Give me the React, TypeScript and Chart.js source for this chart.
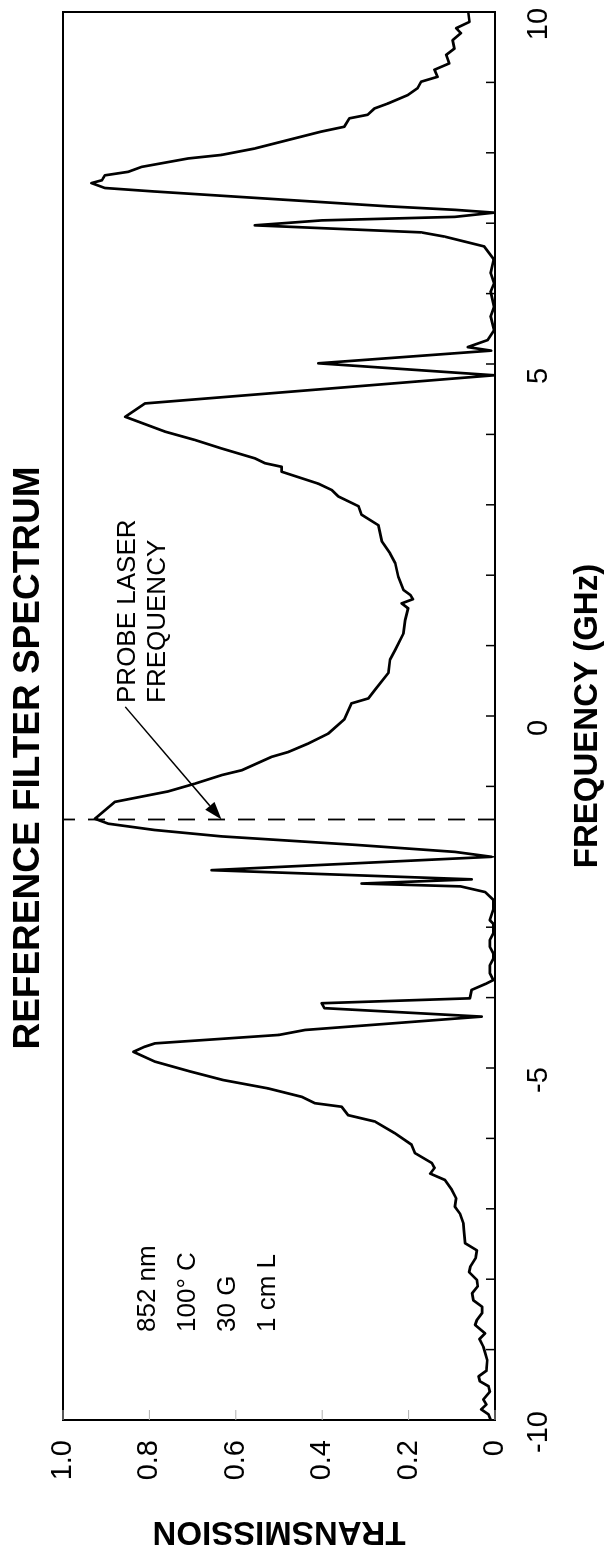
import React, { useEffect, useRef } from 'react';
import { Chart, registerables } from 'chart.js';

Chart.register(...registerables);

// ---- data (frequency in GHz, transmission 0..1) ----
const FREQ_GHZ = [
  -10.0, -9.92, -9.85, -9.78, -9.71, -9.6, -9.52, -9.45, -9.38, -9.3, -9.15, -8.96, -8.85, -8.77,
  -8.65, -8.58, -8.48, -8.39, -8.3, -8.2, -8.1, -8.01, -7.9, -7.82, -7.7, -7.59, -7.49, -7.3,
  -7.21, -7.07, -6.97, -6.85, -6.73, -6.59, -6.5, -6.42, -6.35, -6.21, -6.09, -5.93, -5.76,
  -5.67, -5.55, -5.5, -5.41, -5.29, -5.17, -5.05, -4.91, -4.77, -4.7, -4.65, -4.53, -4.46,
  -4.27, -4.15, -4.08, -4.01, -3.89, -3.8, -3.75, -3.65, -3.54, -3.45, -3.37, -3.28, -3.18,
  -3.09, -2.95, -2.9, -2.75, -2.61, -2.5, -2.42, -2.38, -2.32, -2.19, -2.0, -1.93, -1.83,
  -1.71, -1.62, -1.53, -1.46, -1.22, -1.07, -0.96, -0.84, -0.77, -0.58, -0.51, -0.39, -0.25,
  -0.05, 0.18, 0.25, 0.37, 0.61, 0.8, 0.94, 1.17, 1.36, 1.53, 1.6, 1.66, 1.72, 1.79, 1.98,
  2.17, 2.31, 2.48, 2.71, 2.86, 2.98, 3.12, 3.21, 3.3, 3.47, 3.54, 3.59, 3.66, 3.8, 3.92,
  4.04, 4.25, 4.44, 4.84, 5.01, 5.19, 5.24, 5.34, 5.48, 5.68, 5.81, 6.03, 6.15, 6.29, 6.49,
  6.67, 6.74, 6.81, 6.87, 6.91, 6.97, 7.04, 7.09, 7.15, 7.19, 7.24, 7.33, 7.45, 7.5, 7.57,
  7.61, 7.68, 7.73, 7.8, 7.92, 7.97, 8.06, 8.18, 8.3, 8.37, 8.49, 8.54, 8.63, 8.7, 8.82,
  8.92, 9.01, 9.08, 9.18, 9.27, 9.39, 9.48, 9.6, 9.7, 9.77, 9.86, 10.0,
];

const TRANSMISSION = [
  0.01, 0.015, 0.032, 0.02, 0.027, 0.012, 0.015, 0.035, 0.038, 0.02, 0.018, 0.027, 0.036, 0.023,
  0.046, 0.042, 0.03, 0.03, 0.05, 0.053, 0.04, 0.042, 0.06, 0.057, 0.045, 0.042, 0.069, 0.072,
  0.073, 0.081, 0.093, 0.09, 0.1, 0.116, 0.15, 0.14, 0.146, 0.185, 0.193, 0.231, 0.278,
  0.34, 0.355, 0.417, 0.447, 0.525, 0.63, 0.705, 0.787, 0.837, 0.812, 0.787, 0.5, 0.44,
  0.031, 0.395, 0.401, 0.058, 0.054, 0.02, 0.004, 0.012, 0.012, 0.004, 0.004, 0.012, 0.012,
  0.004, 0.004, 0.012, 0.004, 0.004, 0.023, 0.08, 0.309, 0.054, 0.656, 0.008, 0.093, 0.324,
  0.633, 0.787, 0.895, 0.926, 0.88, 0.756, 0.694, 0.633, 0.586, 0.517, 0.478, 0.432, 0.386,
  0.349, 0.332, 0.293, 0.278, 0.247, 0.243, 0.231, 0.212, 0.208, 0.201, 0.216, 0.19, 0.196, 0.212, 0.224,
  0.231, 0.243, 0.262, 0.27, 0.309, 0.316, 0.363, 0.378, 0.409, 0.494, 0.494, 0.532, 0.556, 0.633, 0.694,
  0.764, 0.856, 0.81, 0.002, 0.409, 0.009, 0.063, 0.017, 0.002, 0.01, 0.002, 0.01, 0.002, 0.01, 0.003,
  0.025, 0.071, 0.117, 0.171, 0.325, 0.556, 0.401, 0.093, 0.002, 0.093, 0.248, 0.479, 0.787, 0.903, 0.934,
  0.91, 0.903, 0.849, 0.818, 0.71, 0.633, 0.557, 0.48, 0.403, 0.349, 0.337, 0.295, 0.279, 0.248, 0.202,
  0.179, 0.171, 0.133, 0.14, 0.106, 0.113, 0.094, 0.098, 0.079, 0.09, 0.059, 0.062,
];

const PROBE_FREQ = -1.47;
const X_LABELED_TICKS = [-10, -5, 0, 5, 10];
const X_MIN = -10;
const X_MAX = 10;
const Y_MIN = 0;
const Y_MAX = 1;

const TITLE = 'REFERENCE FILTER SPECTRUM';
const X_TITLE = 'FREQUENCY (GHz)';
const Y_TITLE = 'TRANSMISSION';
const INFO_LINES = ['852 nm', '100° C', '30 G', '1 cm L'];
const INFO_AT = { f: -8.75, t: 0.787 };
const PROBE_LINES = ['PROBE LASER', 'FREQUENCY'];
const PROBE_TEXT_AT = { f: 0.185, t: 0.833 };
const ARROW_FROM = { f: 0.13, t: 0.856 };
const ARROW_TO = { f: -1.47, t: 0.633 };

const FONT = '"Liberation Sans", Arial, Helvetica, sans-serif';
const CW = 1551; // canvas width (drawn unrotated)
const CH = 608; // canvas height

const decorPlugin = {
  id: 'decor',
  afterDraw(chart: any) {
    const { ctx, chartArea: a, scales } = chart;
    const x = scales.x;
    const y = scales.y;
    ctx.save();
    // frame
    ctx.strokeStyle = '#000';
    ctx.lineWidth = 2;
    ctx.strokeRect(a.left, a.top, a.right - a.left, a.bottom - a.top);
    // inward frequency ticks
    ctx.lineWidth = 1.5;
    x.ticks.forEach((t: any) => {
      const px = x.getPixelForValue(t.value);
      ctx.beginPath();
      ctx.moveTo(px, a.bottom);
      ctx.lineTo(px, a.bottom - 9);
      ctx.stroke();
    });
    // faint transmission ticks
    ctx.strokeStyle = '#b0b0b0';
    ctx.lineWidth = 1;
    y.ticks.forEach((t: any) => {
      const py = y.getPixelForValue(t.value);
      ctx.beginPath();
      ctx.moveTo(a.left, py);
      ctx.lineTo(a.left + 10, py);
      ctx.stroke();
    });
    // annotation text
    ctx.fillStyle = '#000';
    ctx.font = `26px ${FONT}`;
    ctx.textAlign = 'left';
    ctx.textBaseline = 'alphabetic';
    const ix = x.getPixelForValue(INFO_AT.f);
    const iy = y.getPixelForValue(INFO_AT.t);
    INFO_LINES.forEach((s, i) => ctx.fillText(s, ix, iy + i * 40));
    const px0 = x.getPixelForValue(PROBE_TEXT_AT.f);
    const py0 = y.getPixelForValue(PROBE_TEXT_AT.t);
    PROBE_LINES.forEach((s, i) => ctx.fillText(s, px0, py0 + i * 30));
    // arrow
    const ax0 = x.getPixelForValue(ARROW_FROM.f);
    const ay0 = y.getPixelForValue(ARROW_FROM.t);
    const ax1 = x.getPixelForValue(ARROW_TO.f);
    const ay1 = y.getPixelForValue(ARROW_TO.t);
    const ang = Math.atan2(ay1 - ay0, ax1 - ax0);
    const hl = 18;
    const hw = 6;
    const bx = ax1 - hl * Math.cos(ang);
    const by = ay1 - hl * Math.sin(ang);
    ctx.strokeStyle = '#000';
    ctx.lineWidth = 1.5;
    ctx.beginPath();
    ctx.moveTo(ax0, ay0);
    ctx.lineTo(bx, by);
    ctx.stroke();
    ctx.beginPath();
    ctx.moveTo(ax1, ay1);
    ctx.lineTo(bx + hw * Math.sin(ang), by - hw * Math.cos(ang));
    ctx.lineTo(bx - hw * Math.sin(ang), by + hw * Math.cos(ang));
    ctx.closePath();
    ctx.fill();
    // main title
    ctx.font = `bold 37px ${FONT}`;
    ctx.textAlign = 'center';
    ctx.textBaseline = 'middle';
    ctx.fillText(TITLE, (a.left + a.right) / 2 - 42, 29);
    ctx.restore();
  },
};

export default function App() {
  const ref = useRef<HTMLCanvasElement | null>(null);

  useEffect(() => {
    if (!ref.current) return;
    const curve = FREQ_GHZ.map((f, i) => ({ x: f, y: TRANSMISSION[i] }));
    const probe = [
      { x: PROBE_FREQ, y: Y_MIN },
      { x: PROBE_FREQ, y: Y_MAX },
    ];
    const chart = new Chart(ref.current, {
      type: 'line',
      data: {
        datasets: [
          {
            data: curve,
            borderColor: '#000',
            borderWidth: 2.7,
            pointRadius: 0,
            tension: 0,
            fill: false,
            borderJoinStyle: 'round',
            order: 1,
          },
          {
            data: probe,
            borderColor: '#000',
            borderWidth: 1.8,
            borderDash: [17, 13],
            pointRadius: 0,
            fill: false,
            order: 2,
          },
        ],
      },
      options: {
        responsive: false,
        animation: false,
        devicePixelRatio: 1,
        layout: { padding: { left: 0, right: 12, top: 63, bottom: 0 } },
        plugins: {
          legend: { display: false },
          tooltip: { enabled: false },
          title: { display: false },
        },
        scales: {
          x: {
            type: 'linear',
            min: X_MIN,
            max: X_MAX,
            afterFit: (s: any) => {
              s.height = 113;
              s.paddingLeft = 0;
              s.paddingRight = 0;
            },
            grid: { display: false, drawTicks: false },
            border: { display: false },
            ticks: {
              stepSize: 1,
              autoSkip: false,
              maxRotation: 0,
              minRotation: 0,
              padding: 27,
              labelOffset: -12,
              color: '#000',
              font: { family: FONT, size: 29 },
              callback: (v: any) => (X_LABELED_TICKS.includes(Number(v)) ? String(v) : ''),
            },
            title: {
              display: true,
              text: X_TITLE,
              color: '#000',
              font: { family: FONT, size: 33, weight: 'bold' },
              padding: { top: 0, bottom: 0 },
            },
          },
          y: {
            type: 'linear',
            min: Y_MIN,
            max: Y_MAX,
            afterFit: (s: any) => {
              s.width = 131;
              s.paddingTop = 0;
              s.paddingBottom = 0;
            },
            grid: { display: false, drawTicks: false },
            border: { display: false },
            ticks: {
              stepSize: 0.2,
              padding: 20,
              color: '#000',
              font: { family: FONT, size: 29 },
              callback: (v: any) => (Number(v) === 0 ? '0' : Number(v).toFixed(1)),
            },
            title: {
              display: true,
              text: Y_TITLE,
              color: '#000',
              font: { family: FONT, size: 33, weight: 'bold' },
              padding: { top: 0, bottom: 0 },
            },
          },
        },
      },
      plugins: [decorPlugin],
    } as any);
    return () => chart.destroy();
  }, []);

  return (
    <div
      style={{
        position: 'absolute',
        left: 0,
        top: 0,
        width: CH,
        height: CW,
        overflow: 'hidden',
        background: '#fff',
      }}
    >
      <canvas
        ref={ref}
        width={CW}
        height={CH}
        style={{
          position: 'absolute',
          left: 0,
          top: 0,
          width: CW,
          height: CH,
          transformOrigin: '0 0',
          transform: `translate(0px, ${CW}px) rotate(-90deg)`,
        }}
      />
    </div>
  );
}
